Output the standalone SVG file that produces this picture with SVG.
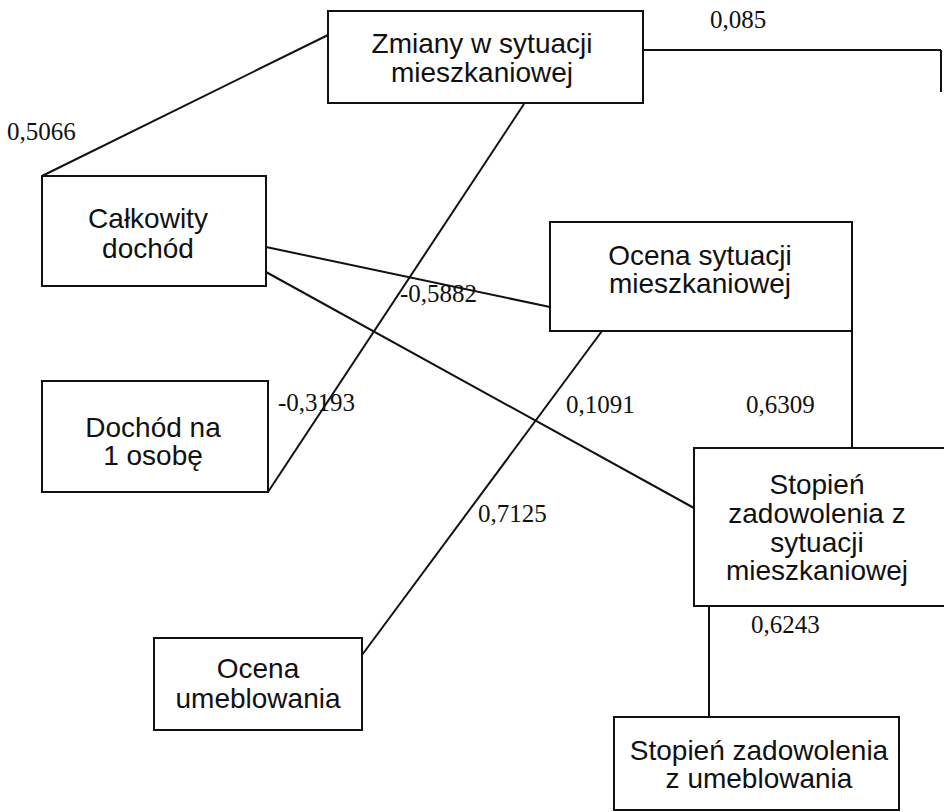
<svg xmlns="http://www.w3.org/2000/svg" width="944" height="812" viewBox="0 0 944 812">
<style>
.box{fill:#fff;stroke:#111;stroke-width:2}
.nt{font-family:"Liberation Sans",Arial,sans-serif;font-size:28px;fill:#111;text-anchor:middle}
.lbl{font-family:"Liberation Serif","Times New Roman",serif;font-size:25px;fill:#111}
.ln{stroke:#111;stroke-width:2;fill:none}
</style>
<rect width="944" height="812" fill="#fff"/>
<g id="connectors">
<line class="ln" x1="643" y1="50" x2="941" y2="50"/>
<line class="ln" x1="941" y1="50" x2="941" y2="92"/>
<line class="ln" x1="328" y1="35" x2="42" y2="176"/>
<line class="ln" x1="524" y1="104" x2="268" y2="492"/>
<line class="ln" x1="266" y1="247" x2="550" y2="307"/>
<line class="ln" x1="266" y1="272" x2="694" y2="508"/>
<line class="ln" x1="602" y1="331" x2="362" y2="655"/>
<line class="ln" x1="852" y1="331" x2="852" y2="448"/>
<line class="ln" x1="709" y1="606" x2="709" y2="717"/>
</g>
<g id="labels">
<text class="lbl" x="710" y="28">0,085</text>
<text class="lbl" x="7" y="140">0,5066</text>
<text class="lbl" x="400" y="302">-0,5882</text>
<text class="lbl" x="278" y="411">-0,3193</text>
<text class="lbl" x="566" y="413">0,1091</text>
<text class="lbl" x="746" y="413">0,6309</text>
<text class="lbl" x="478" y="522">0,7125</text>
<text class="lbl" x="751" y="633">0,6243</text>
</g>
<g id="node-zmiany">
<rect class="box" x="328" y="11" width="315" height="92"/>
<text class="nt" x="482" y="53">Zmiany w sytuacji</text>
<text class="nt" x="482" y="82">mieszkaniowej</text>
</g>
<g id="node-calkowity">
<rect class="box" x="42" y="176" width="224" height="110"/>
<text class="nt" x="148" y="228">Całkowity</text>
<text class="nt" x="148" y="258">dochód</text>
</g>
<g id="node-dochod-osoba">
<rect class="box" x="42" y="381" width="226" height="111"/>
<text class="nt" x="153" y="437">Dochód na</text>
<text class="nt" x="153" y="465">1 osobę</text>
</g>
<g id="node-ocena-sytuacji">
<rect class="box" x="550" y="222" width="302" height="109"/>
<text class="nt" x="700" y="265">Ocena sytuacji</text>
<text class="nt" x="700" y="293">mieszkaniowej</text>
</g>
<g id="node-stopien-sytuacji">
<rect class="box" x="694" y="448" width="260" height="158"/>
<text class="nt" x="817" y="494">Stopień</text>
<text class="nt" x="817" y="523">zadowolenia z</text>
<text class="nt" x="817" y="552">sytuacji</text>
<text class="nt" x="817" y="580">mieszkaniowej</text>
</g>
<g id="node-ocena-umeblowania">
<rect class="box" x="154" y="638" width="208" height="92"/>
<text class="nt" x="258" y="678">Ocena</text>
<text class="nt" x="258" y="708">umeblowania</text>
</g>
<g id="node-stopien-umeblowania">
<rect class="box" x="614" y="717" width="285" height="93"/>
<text class="nt" x="759" y="760">Stopień zadowolenia</text>
<text class="nt" x="759" y="788">z umeblowania</text>
</g>
</svg>
